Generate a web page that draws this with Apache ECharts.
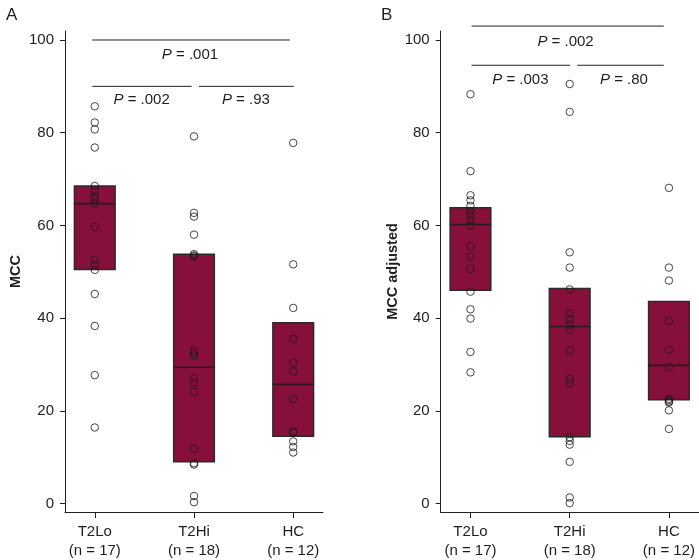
<!DOCTYPE html>
<html>
<head>
<meta charset="utf-8">
<script src="https://cdn.jsdelivr.net/npm/echarts@6/dist/echarts.min.js"></script>
<style>html,body{margin:0;padding:0;background:#fff}#c{width:699px;height:560px}</style>
</head>
<body>
<div id="c"></div>
<script>
// ---- data ----
const categories = ['T2Lo', 'T2Hi', 'HC'];
const nLabels = ['(n = 17)', '(n = 18)', '(n = 12)'];
const yTicks = [0, 20, 40, 60, 80, 100];

// Panel A: MCC
const mccT2Lo = [85.7, 82.2, 80.7, 76.8, 68.5, 67.5, 66.3, 65.7, 64.7, 59.7, 52.6, 51.5, 50.4, 45.2, 38.3, 27.7, 16.4];
const mccT2Hi = [79.2, 62.7, 61.9, 58.0, 53.8, 53.3, 33.0, 32.5, 32.0, 27.0, 26.1, 24.1, 11.8, 8.7, 8.4, 1.6, 0.3, 53.5];
const mccHC = [77.8, 51.6, 42.2, 35.5, 30.3, 28.5, 22.6, 15.5, 15.3, 13.4, 12.2, 11.0];
// box: [q1, median, q3]
const mccBoxT2Lo = [50.5, 64.7, 68.5];
const mccBoxT2Hi = [9.0, 29.4, 53.8];
const mccBoxHC = [14.5, 25.7, 39.0];
const pLabelsA = ['.001', '.002', '.93'];

// Panel B: MCC adjusted
const adjT2Lo = [88.3, 71.7, 66.5, 65.4, 64.2, 63.1, 62.2, 61.1, 60.0, 55.5, 53.3, 50.6, 45.7, 41.9, 39.9, 32.7, 28.3];
const adjT2Hi = [90.5, 84.5, 54.2, 50.9, 46.2, 41.0, 39.7, 38.6, 37.5, 33.0, 26.9, 26.0, 14.3, 13.5, 12.7, 9.0, 1.3, 0.1];
const adjHC = [68.1, 50.9, 48.1, 39.4, 33.2, 29.5, 22.6, 22.3, 21.8, 20.1, 16.1, 22.0];
const adjBoxT2Lo = [46.0, 60.2, 63.8];
const adjBoxT2Hi = [14.4, 38.2, 46.4];
const adjBoxHC = [22.4, 29.8, 43.6];
const pLabelsB = ['.002', '.003', '.80'];

// ---- chart ----
const FONT = '"Liberation Sans", Arial, Helvetica, sans-serif';
const TXT = '#1e1e1e';
const FILL = '#870f3b';
const yMin = -1.83, yMax = 101.94;

function pointsOf(groups) {
  const out = [];
  groups.forEach((g, i) => g.forEach(v => out.push([i + 1, v])));
  return out;
}
function boxesOf(boxes) {
  return boxes.map((b, i) => [i + 1, b[0], b[1], b[2]]);
}

const grids = [
  { left: 65, top: 31, width: 258, height: 482 },
  { left: 440.7, top: 31, width: 258, height: 482 }
];

function xAxis(gi) {
  return {
    type: 'value', gridIndex: gi, min: 0.7, max: 3.3,
    splitLine: { show: false },
    axisLine: { show: true, onZero: false, lineStyle: { color: '#222', width: 1 } },
    axisTick: { show: true, length: 6, customValues: [1, 2, 3], lineStyle: { color: '#222' } },
    axisLabel: {
      customValues: [1, 2, 3], margin: 10, fontFamily: FONT, fontSize: 15, color: TXT, lineHeight: 19,
      formatter: v => categories[Math.round(v) - 1] + '\n' + nLabels[Math.round(v) - 1]
    }
  };
}
function yAxis(gi, name, gap) {
  return {
    type: 'value', gridIndex: gi, min: yMin, max: yMax,
    name: name, nameLocation: 'middle', nameGap: gap,
    nameTextStyle: { fontFamily: FONT, fontSize: 14.5, fontWeight: 'bold', color: TXT },
    splitLine: { show: false },
    axisLine: { show: true, onZero: false, lineStyle: { color: '#222', width: 1 } },
    axisTick: { show: true, length: 5, customValues: yTicks, lineStyle: { color: '#222' } },
    axisLabel: { customValues: yTicks, margin: 11, fontFamily: FONT, fontSize: 15, color: TXT }
  };
}

function boxSeries(gi, boxes) {
  return {
    type: 'custom', xAxisIndex: gi, yAxisIndex: gi, z: 2,
    data: boxesOf(boxes),
    renderItem: function (params, api) {
      const x = api.value(0), hw = 0.205;
      const tl = api.coord([x - hw, api.value(3)]);
      const br = api.coord([x + hw, api.value(1)]);
      const ml = api.coord([x - hw, api.value(2)]);
      const mr = api.coord([x + hw, api.value(2)]);
      return {
        type: 'group', children: [
          { type: 'rect', shape: { x: tl[0], y: tl[1], width: br[0] - tl[0], height: br[1] - tl[1] },
            style: { fill: FILL, stroke: '#2a2a2a', lineWidth: 1.5 } },
          { type: 'line', shape: { x1: ml[0], y1: ml[1], x2: mr[0], y2: mr[1] },
            style: { stroke: '#2a1a1f', lineWidth: 1.6 } }
        ]
      };
    }
  };
}
function pointSeries(gi, groups) {
  return {
    type: 'scatter', xAxisIndex: gi, yAxisIndex: gi, z: 5,
    symbol: 'circle', symbolSize: 7.5,
    itemStyle: { color: 'rgba(0,0,0,0)', borderColor: '#1a1a1a', borderWidth: 1 },
    emphasis: { disabled: true },
    data: pointsOf(groups)
  };
}
// bracket: [x1, x2, yLine, xText, yText, labelIndex]
function bracketSeries(gi, items, labels) {
  return {
    type: 'custom', xAxisIndex: gi, yAxisIndex: gi, z: 6, clip: false,
    data: items,
    renderItem: function (params, api) {
      const a = api.coord([api.value(0), api.value(2)]);
      const b = api.coord([api.value(1), api.value(2)]);
      const t = api.coord([api.value(3), api.value(4)]);
      const lab = labels[api.value(5)];
      return {
        type: 'group', children: [
          { type: 'line', shape: { x1: a[0], y1: a[1], x2: b[0], y2: b[1] }, style: { stroke: '#222', lineWidth: 1 } },
          { type: 'text', x: t[0], y: t[1],
            style: { text: '{i|P} = ' + lab, align: 'center', verticalAlign: 'middle',
              fontFamily: FONT, fontSize: 15, fill: TXT,
              rich: { i: { fontStyle: 'italic', fontFamily: FONT, fontSize: 15, fill: TXT } } } }
        ]
      };
    }
  };
}

const bracketsA = [
  [0.975, 2.966, 100.0, 1.959, 96.9, 0],
  [0.975, 1.976, 90.0, 1.472, 87.0, 1],
  [2.05, 3.006, 90.0, 2.523, 87.0, 2]
];
const bracketsB = [
  [1.011, 2.948, 103.0, 1.958, 99.7, 0],
  [1.011, 2.003, 94.55, 1.503, 91.3, 1],
  [2.076, 2.948, 94.55, 2.547, 91.3, 2]
];

const chart = echarts.init(document.getElementById('c'), null, { renderer: 'canvas' });
chart.setOption({
  animation: false,
  backgroundColor: '#fff',
  title: [
    { text: 'A', left: 1, top: 2, textStyle: { fontFamily: FONT, fontSize: 17, fontWeight: 'normal', color: TXT } },
    { text: 'B', left: 376, top: 2, textStyle: { fontFamily: FONT, fontSize: 17, fontWeight: 'normal', color: TXT } }
  ],
  grid: grids,
  xAxis: [xAxis(0), xAxis(1)],
  yAxis: [yAxis(0, 'MCC', 42), yAxis(1, 'MCC adjusted', 39)],
  series: [
    boxSeries(0, [mccBoxT2Lo, mccBoxT2Hi, mccBoxHC]),
    pointSeries(0, [mccT2Lo, mccT2Hi, mccHC]),
    bracketSeries(0, bracketsA, pLabelsA),
    boxSeries(1, [adjBoxT2Lo, adjBoxT2Hi, adjBoxHC]),
    pointSeries(1, [adjT2Lo, adjT2Hi, adjHC]),
    bracketSeries(1, bracketsB, pLabelsB)
  ]
});
</script>
</body>
</html>
